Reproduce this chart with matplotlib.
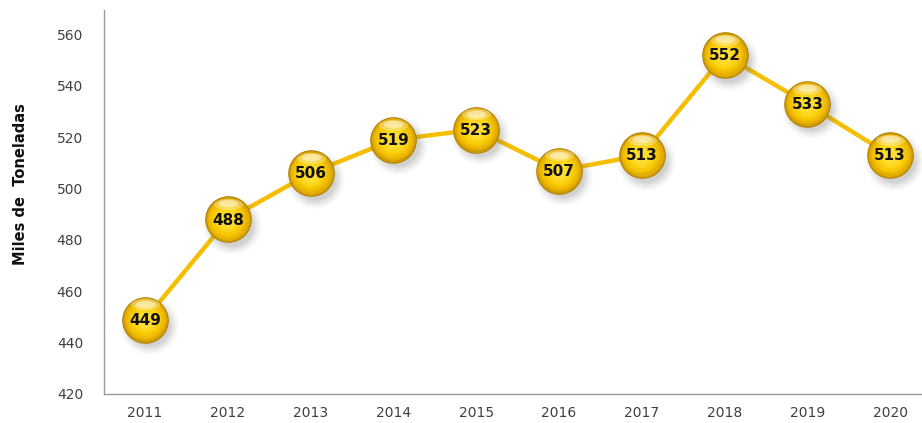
import numpy as np
import matplotlib
matplotlib.use("Agg")
import matplotlib.pyplot as plt
from matplotlib.transforms import ScaledTranslation
from matplotlib.path import Path

years = ["2011", "2012", "2013", "2014", "2015", "2016", "2017", "2018", "2019", "2020"]
values = [449, 488, 506, 519, 523, 507, 513, 552, 533, 513]
y_ticks = [420, 440, 460, 480, 500, 520, 540, 560]

line_color = "#F5BE00"

fig = plt.figure(figsize=(9.22, 4.23), dpi=100)
ax = fig.add_axes([0.1128, 0.0686, 0.8872, 0.9074])
x = np.arange(len(years))

ax.plot(x, values, color=line_color, lw=3.2, zorder=2, solid_capstyle="round")


def shifted(dx, dy):
    return ax.transData + ScaledTranslation(dx / 72, dy / 72, fig.dpi_scale_trans)


# soft drop shadow below-right of each ball
for s, a in [(42, 0.04), (39, 0.06), (36, 0.08), (33, 0.10), (30, 0.10)]:
    ax.plot(x, values, "o", ms=s, color="#7a7a7a", alpha=a, mec="none",
            transform=shifted(3.0, -4.0), zorder=3)

# ball body: dark rim fading to a bright core
layers = [
    (33.5, "#A87A00", 0, 0),
    (32.5, "#CC9800", 0, 0),
    (30.5, "#E2AC00", 0.0, 0.4),
    (27.5, "#EFBC00", -0.2, 0.6),
    (23.5, "#F7C906", -0.3, 0.5),
    (18.5, "#FBD518", -0.3, 0.2),
    (12.5, "#FEDD30", -0.2, -0.3),
]
for s, c, dx, dy in layers:
    ax.plot(x, values, "o", ms=s, color=c, mec="none",
            transform=shifted(dx, dy), zorder=4)

# glossy highlight near the top of each ball
theta = np.linspace(0, 2 * np.pi, 60)
flat = Path(np.column_stack([np.cos(theta), 0.38 * np.sin(theta)]), closed=True)
for w, a, dy in [(21, 0.30, 11.0), (14, 0.45, 11.5)]:
    ax.plot(x, values, marker=flat, ms=w, ls="none", color="white", mec="none",
            alpha=a, transform=shifted(0, dy), zorder=5)

for xi, v in zip(x, values):
    ax.annotate(str(v), (xi, v), ha="center", va="center", fontsize=11,
                fontweight="bold", color="#111111", zorder=6,
                xytext=(0, -0.5), textcoords="offset points")

ax.set_xlim(-0.495, 9.385)
ax.set_ylim(420, 569.5)
ax.set_xticks(x)
ax.set_xticklabels(years)
ax.set_yticks(y_ticks)
ax.tick_params(length=0, labelsize=10, colors="#404040", pad=9)
ax.tick_params(axis="y", pad=15)
for sp in ["top", "right"]:
    ax.spines[sp].set_visible(False)
for sp in ["left", "bottom"]:
    ax.spines[sp].set_color("#9a9a9a")
    ax.spines[sp].set_linewidth(1.0)
ax.set_ylabel("Miles de  Toneladas", fontsize=10.5, fontweight="bold",
              color="#111111")
ax.yaxis.set_label_coords(-0.093, 0.547)

fig.savefig("out.png", dpi=100)
